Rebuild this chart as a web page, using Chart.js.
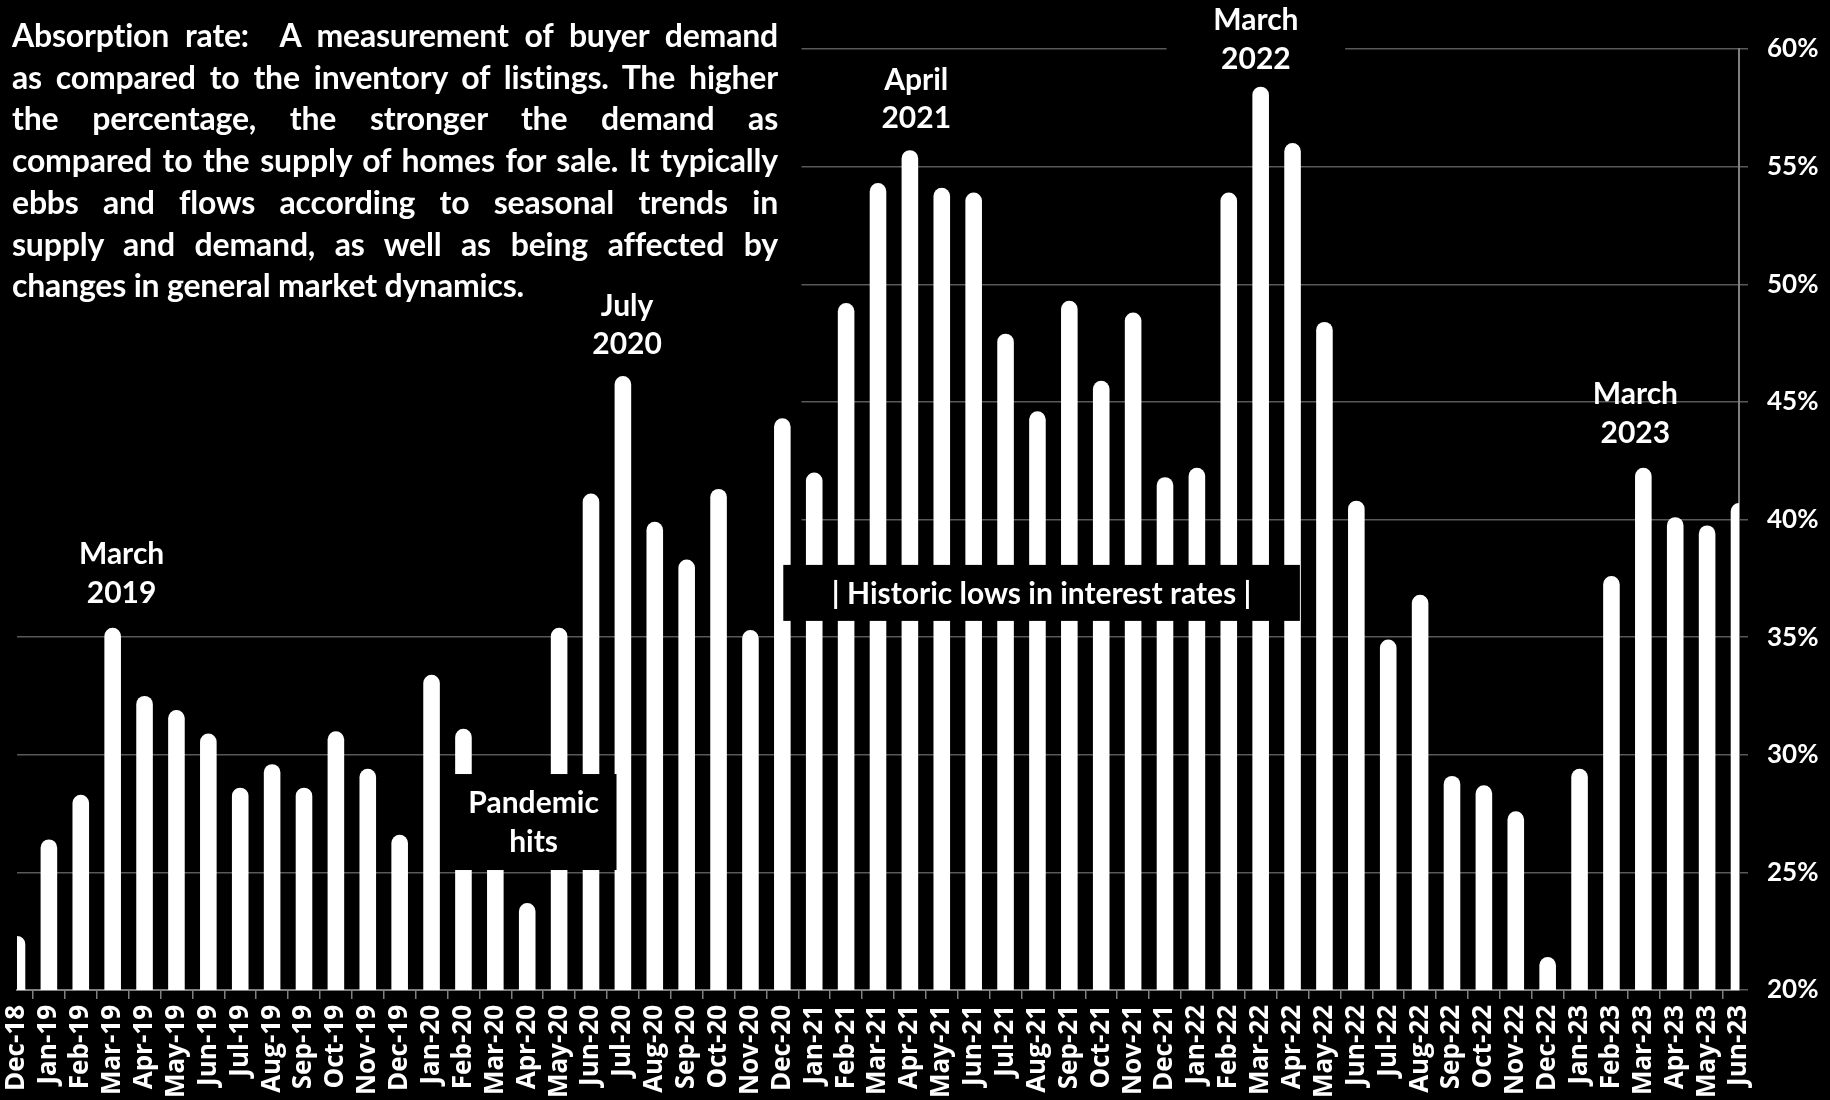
<!DOCTYPE html>
<html>
<head>
<meta charset="utf-8">
<title>Absorption rate</title>
<script src="https://cdn.jsdelivr.net/npm/chart.js@4.4.1/dist/chart.umd.min.js"></script>
<style>
  html, body { margin: 0; padding: 0; background: #000; }
  #wrap { position: relative; width: 1830px; height: 1100px; overflow: hidden; }
  #chart { position: absolute; left: 0; top: 0; }
  #blurb {
    position: absolute; left: 12px; top: 14px; width: 766px;
    color: #fff; font-family: Lato, sans-serif; font-weight: 700;
    font-size: 32px; line-height: 41.7px; letter-spacing: -0.2px;
  }
  #blurb div { text-align: justify; text-align-last: justify; white-space: nowrap; }
  #blurb div.last { text-align-last: left; }
</style>
</head>
<body>
<div id="wrap">
  <canvas id="chart" width="1830" height="1100"></canvas>
  <div id="blurb">
    <div>Absorption rate:&nbsp; A measurement of buyer demand</div>
    <div>as compared to the inventory of listings. The higher</div>
    <div>the percentage, the stronger the demand as</div>
    <div>compared to the supply of homes for sale. It typically</div>
    <div>ebbs and flows according to seasonal trends in</div>
    <div>supply and demand, as well as being affected by</div>
    <div class="last">changes in general market dynamics.</div>
  </div>
</div>
<script>
// monthly absorption rate, Dec 2018 - Jun 2023 (percent)
const months = [
  'Dec-18',
  'Jan-19','Feb-19','Mar-19','Apr-19','May-19','Jun-19','Jul-19','Aug-19','Sep-19','Oct-19','Nov-19','Dec-19',
  'Jan-20','Feb-20','Mar-20','Apr-20','May-20','Jun-20','Jul-20','Aug-20','Sep-20','Oct-20','Nov-20','Dec-20',
  'Jan-21','Feb-21','Mar-21','Apr-21','May-21','Jun-21','Jul-21','Aug-21','Sep-21','Oct-21','Nov-21','Dec-21',
  'Jan-22','Feb-22','Mar-22','Apr-22','May-22','Jun-22','Jul-22','Aug-22','Sep-22','Oct-22','Nov-22','Dec-22',
  'Jan-23','Feb-23','Mar-23','Apr-23','May-23','Jun-23'
];
const absorption = [
  22.3,
  26.4, 28.3, 35.4, 32.5, 31.9, 30.9, 28.6, 29.6, 28.6, 31.0, 29.4, 26.6,
  33.4, 31.1, 27.5, 23.7, 35.4, 41.1, 46.1, 39.9, 38.3, 41.3, 35.3, 44.3,
  42.0, 49.2, 54.3, 55.7, 54.1, 53.9, 47.9, 44.6, 49.3, 45.9, 48.8, 41.8,
  42.2, 53.9, 58.4, 56.0, 48.4, 40.8, 34.9, 36.8, 29.1, 28.7, 27.6, 21.4,
  29.4, 37.6, 42.2, 40.1, 39.75, 40.7
];
const yMin = 20, yMax = 60, yStep = 5;

// callouts: anchored to a category (with a small nudge) and to a value on the y scale
const callouts = [
  { at: 'Mar-19', dx: 0.28, y: 38.5, lines: ['March', '2019'] },
  { at: 'Jul-20', dx: 0.13, y: 49.08, lines: ['July', '2020'] },
  { at: 'Apr-21', dx: 0.2, y: 58.67, lines: ['April', '2021'] },
  { at: 'Mar-22', dx: -0.15, y: 61.2, lines: ['March', '2022'], box: 5.6 },
  { at: 'Mar-23', dx: -0.25, y: 45.32, lines: ['March', '2023'] }
];
const boxes = [
  { from: 13.6, to: 18.8, top: 29.18, bottom: 25.1, lines: ['Pandemic', 'hits'] },
  { from: 24.03, to: 40.23, top: 38.07, bottom: 35.69, lines: ['| Historic lows in interest rates |'] }
];

const NOTE_FONT = '700 30px Lato, sans-serif';
const LINE_GAP = 38.5;

const notesPlugin = {
  id: 'notes',
  // the text panel's black backing sits behind the bars, hiding the upper-left gridlines
  beforeDatasetsDraw(chart) {
    const { ctx, scales: { x, y } } = chart;
    ctx.save();
    ctx.fillStyle = '#000';
    ctx.fillRect(0, 0, x.getPixelForValue(24.6), y.getPixelForValue(38.2));
    ctx.restore();
  },
  afterDraw(chart) {
    const { ctx, scales: { x, y } } = chart;
    const step = x.getPixelForValue(1) - x.getPixelForValue(0);
    ctx.save();
    ctx.font = NOTE_FONT;
    ctx.textAlign = 'center';
    ctx.textBaseline = 'middle';

    boxes.forEach(b => {
      const l = x.getPixelForValue(b.from), r = x.getPixelForValue(b.to);
      const t = y.getPixelForValue(b.top), btm = y.getPixelForValue(b.bottom);
      ctx.fillStyle = '#000';
      ctx.fillRect(l, t, r - l, btm - t);
      ctx.fillStyle = '#fff';
      const cy = (t + btm) / 2 - (b.lines.length - 1) * LINE_GAP / 2;
      b.lines.forEach((s, i) => ctx.fillText(s, (l + r) / 2, cy + i * LINE_GAP + 1));
    });

    callouts.forEach(c => {
      const cx = x.getPixelForValue(months.indexOf(c.at) + c.dx);
      const cy = y.getPixelForValue(c.y);
      if (c.box) {
        const w = c.box * step;
        ctx.fillStyle = '#000';
        ctx.fillRect(cx - w / 2, 0, w, 80);
      }
      ctx.fillStyle = '#fff';
      c.lines.forEach((s, i) => ctx.fillText(s, cx, cy + i * LINE_GAP));
    });
    ctx.restore();
  }
};

new Chart(document.getElementById('chart'), {
  type: 'bar',
  data: {
    labels: months,
    datasets: [{
      data: absorption,
      backgroundColor: '#ffffff',
      barPercentage: 0.52,
      categoryPercentage: 1,
      borderRadius: 999,
      borderSkipped: 'start',
      clip: 0
    }]
  },
  options: {
    responsive: false,
    animation: false,
    maintainAspectRatio: false,
    layout: { padding: { left: 17, top: 49, right: 0, bottom: 0 } },
    plugins: { legend: { display: false }, tooltip: { enabled: false } },
    scales: {
      x: {
        offset: false,
        grid: { display: true, drawOnChartArea: false, drawTicks: true, tickLength: 9, color: '#808080', lineWidth: 1.5 },
        border: { color: '#808080', width: 2 },
        ticks: {
          autoSkip: false, maxRotation: 90, minRotation: 90, padding: 6,
          color: '#ffffff', font: { family: '"Open Sans", sans-serif', weight: '700', size: 26 }
        },
        afterFit(s) { s.height = 110; }
      },
      y: {
        position: 'right',
        min: yMin, max: yMax,
        grid: { color: '#595959', lineWidth: 1.5, tickLength: 9 },
        border: { color: '#808080', width: 2 },
        ticks: {
          stepSize: yStep, padding: 19, color: '#ffffff',
          font: { family: 'Lato, sans-serif', weight: '700', size: 26 },
          callback: v => v + '%'
        },
        afterFit(s) { s.width = 91; }
      }
    }
  },
  plugins: [notesPlugin]
});
</script>
</body>
</html>
